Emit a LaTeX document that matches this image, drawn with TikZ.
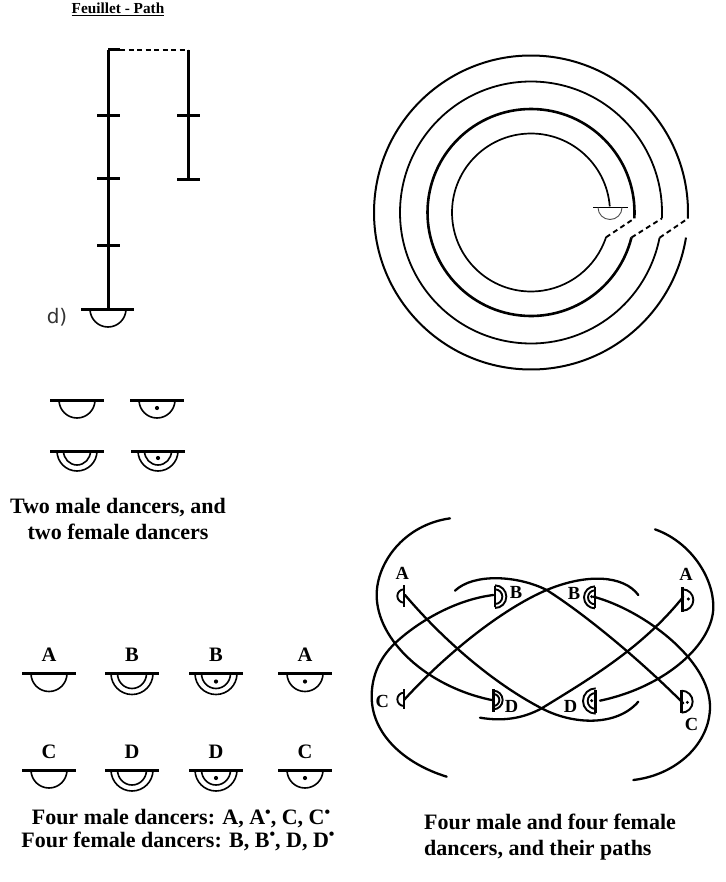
\documentclass[tikz,border=0pt]{standalone}
\usepackage{fontspec}
\setmainfont{Liberation Serif}
\newfontfamily\dfont{DejaVu Sans}
\newcommand{\supdot}{\raisebox{0.33em}{\fontsize{16}{16}\selectfont •}}
% x, y, rx, depth : half ellipse under a bar
\newcommand{\hsemi}[4]{\draw[thin arc] ({#1-#3},#2) arc[start angle=180,end angle=0,x radius=#3,y radius=#4];}
\newcommand{\gbar}[2]{\draw[bar] ({#1-27},#2) -- ({#1+27},#2);}
\newcommand{\gdot}[2]{\fill (#1,#2) circle[radius=2.1];}
\newcommand{\ringarc}[5]{%
  \coordinate (#5s) at ({531+#1*cos(#2)},{212.5-#1*sin(#2)});
  \coordinate (#5e) at ({531+#1*cos(#3)},{212.5-#1*sin(#3)});
  \draw[line width=#4] (#5s) arc[start angle=-#2,end angle=-#3,radius=#1];}
% zoomed-coordinates glyphs for the lower right figure
\newcommand{\rarc}[3]{\draw[pglyph] (#1,{#2-#3}) arc[start angle=-90,end angle=90,radius=#3];}
\newcommand{\larc}[3]{\draw[pglyph] (#1,{#2-#3}) arc[start angle=-90,end angle=-270,radius=#3];}
\tikzset{
  thin arc/.style={line width=1.6pt},
  bar/.style={line width=3pt},
  stem/.style={line width=3pt},
  pathline/.style={line width=2.3pt,line cap=round},
  pglyph/.style={line width=1.9pt},
  pbar/.style={line width=2.4pt},
  cap18/.style={font=\bfseries\fontsize{20.5}{20.5}\selectfont,inner sep=0pt},
  body/.style={font=\bfseries\fontsize{22}{26}\selectfont,inner sep=0pt},
  plabel/.style={font=\bfseries\fontsize{18.5}{18.5}\selectfont,inner sep=0pt},
}
\begin{document}
\begin{tikzpicture}[x=1pt,y=-1pt]
\useasboundingbox (0,0) rectangle (725,882);
\fill[white] (0,0) rectangle (725,882);

% ---- title and feuillet path
\node[inner sep=0pt,font=\bfseries\fontsize{15.3}{15.3}\selectfont] (title) at (118,9) {\underline{Feuillet - Path}};
\coordinate (m0) at (108,50); \coordinate (m4) at (108,309);
\coordinate (s0) at (188,50); \coordinate (s2) at (188,180);
\draw[stem] (m0) -- (m4);
\draw[stem] (s0) -- (s2);
\draw[bar] (m0) -- (120,50);
\draw[line width=1.8pt,dash pattern=on 5pt off 3.5pt] (120,50) -- (s0);
\foreach \yy in {116,179,246} \draw[bar] (97,\yy) -- (120,\yy);
\foreach \yy in {116,180} \draw[bar] (177,\yy) -- (200,\yy);
\draw[bar] (81,309) -- (134,309);
\hsemi{108}{309}{18}{18}
\node[inner sep=0pt,text=black!80,font=\dfont\fontsize{20}{20}\selectfont] (dlabel) at (57,317) {d)};

% ---- four symbols
\gbar{77}{400} \hsemi{77}{400}{18}{18}
\gbar{157}{400} \hsemi{157}{400}{18}{18} \gdot{157}{408}
\gbar{77}{451} \hsemi{77}{451}{20}{20} \hsemi{77}{451}{13.5}{14}
\gbar{158}{451} \hsemi{158}{451}{20}{20} \hsemi{158}{451}{13.5}{14} \gdot{158}{458}
\node[body,align=center] (two) at (118,519) {Two male dancers, and\\two female dancers};

% ---- eight symbols
\foreach \lab/\xx/\yy in {A/49/673.5,C/49/770}{
  \gbar{\xx}{\yy} \hsemi{\xx}{\yy}{18}{18}
  \node[cap18] at (\xx,{\yy-18.5}) {\lab};}
\foreach \lab/\xx/\yy in {A/305/673.5,C/305/770}{
  \gbar{\xx}{\yy} \hsemi{\xx}{\yy}{18}{18} \gdot{\xx}{\yy+8}
  \node[cap18] at (\xx,{\yy-18.5}) {\lab};}
\foreach \lab/\xx/\yy in {B/132/673.5,D/132/770}{
  \gbar{\xx}{\yy} \hsemi{\xx}{\yy}{21}{21} \hsemi{\xx}{\yy}{14.5}{15}
  \node[cap18] at (\xx,{\yy-18.5}) {\lab};}
\foreach \lab/\xx/\yy in {B/216/673.5,D/216/770}{
  \gbar{\xx}{\yy} \hsemi{\xx}{\yy}{21}{21} \hsemi{\xx}{\yy}{14.5}{15} \gdot{\xx}{\yy+8}
  \node[cap18] at (\xx,{\yy-18.5}) {\lab};}
\node[body] (four1) at (181,819) {Four male dancers: A, A\supdot, C, C\supdot};
\node[body] (four2) at (178,841) {Four female dancers: B, B\supdot, D, D\supdot};

% ---- spiral
\ringarc{79}{4.4}{341.7}{1.7pt}{r1}
\ringarc{103.5}{-3.3}{346}{2.6pt}{r2}
\ringarc{131}{-2.6}{348.9}{1.8pt}{r3}
\ringarc{157}{-2.2}{350.8}{2pt}{r4}
\draw[line width=1.9pt,dash pattern=on 5pt off 3.6pt] (r1e) -- (r2s);
\draw[line width=1.9pt,dash pattern=on 5pt off 3.6pt] (r2e) -- (r3s);
\draw[line width=1.9pt,dash pattern=on 5pt off 3.6pt] (r3e) -- (r4s);
\draw[line width=1.6pt] (593,207.5) -- (628,207.5);
\draw[line width=0.9pt,black!70] (598,207.5) arc[start angle=180,end angle=0,radius=12];

% ---- four male and four female paths
\begin{scope}[shift={(360,500)},x=0.33333pt,y=-0.33333pt]
\draw[pathline] (270,55) .. controls (130,75) and (50,190) .. (50,285) .. controls (50,420) and (200,560) .. (395,600);
\draw[pathline] (132,600) .. controls (250,470) and (420,330) .. (560,270) .. controls (680,220) and (790,225) .. (835,285);
\draw[pathline] (285,272) .. controls (340,220) and (470,225) .. (560,270) .. controls (670,340) and (830,470) .. (970,610);
\draw[pathline] (135,285) .. controls (250,420) and (400,550) .. (545,625) .. controls (640,675) and (770,680) .. (835,605);
\draw[pathline] (400,285) .. controls (280,300) and (170,370) .. (110,425) .. controls (50,480) and (35,540) .. (35,590) .. controls (35,700) and (130,790) .. (260,830);
\draw[pathline] (360,653) .. controls (430,665) and (490,655) .. (545,625) .. controls (700,530) and (850,440) .. (970,290);
\draw[pathline] (885,88) .. controls (990,125) and (1060,230) .. (1060,320) .. controls (1060,430) and (920,560) .. (720,602);
\draw[pathline] (700,290) .. controls (850,330) and (1050,480) .. (1050,620) .. controls (1050,730) and (950,825) .. (820,840);
% glyphs
\draw[pbar] (132,255) -- (132,322); \larc{132}{288}{20}
\draw[pbar] (132,567) -- (132,628); \larc{132}{598}{20}
\draw[pbar] (405,258) -- (405,322); \rarc{405}{290}{34} \rarc{405}{290}{22}
\draw[pbar] (400,568) -- (400,635); \rarc{400}{600}{28} \rarc{400}{600}{18}
\draw[pbar] (705,262) -- (705,325); \larc{705}{292}{33} \larc{705}{292}{21} \fill (695,290) circle[radius=5];
\draw[pbar] (707,570) -- (707,640); \larc{707}{603}{38} \larc{707}{603}{24} \fill (695,602) circle[radius=5];
\draw[pbar] (968,262) -- (968,337); \rarc{968}{300}{32} \fill (985,297) circle[radius=5];
\draw[pbar] (965,570) -- (965,640); \rarc{965}{605}{33} \fill (982,607) circle[radius=5];
% labels
\node[plabel] (la1) at (127,219) {A};
\node[plabel] (lc1) at (67,603) {C};
\node[plabel] (lb1) at (468,277) {B};
\node[plabel] (ld1) at (455,618) {D};
\node[plabel] (lb2) at (642,280) {B};
\node[plabel] (ld2) at (632,620) {D};
\node[plabel] (la2) at (978,222) {A};
\node[plabel] (lc2) at (995,672) {C};
\end{scope}
\node[body,align=left,anchor=west] (paths) at (424,837) {Four male and four female\\dancers, and their paths};
\end{tikzpicture}
\end{document}
